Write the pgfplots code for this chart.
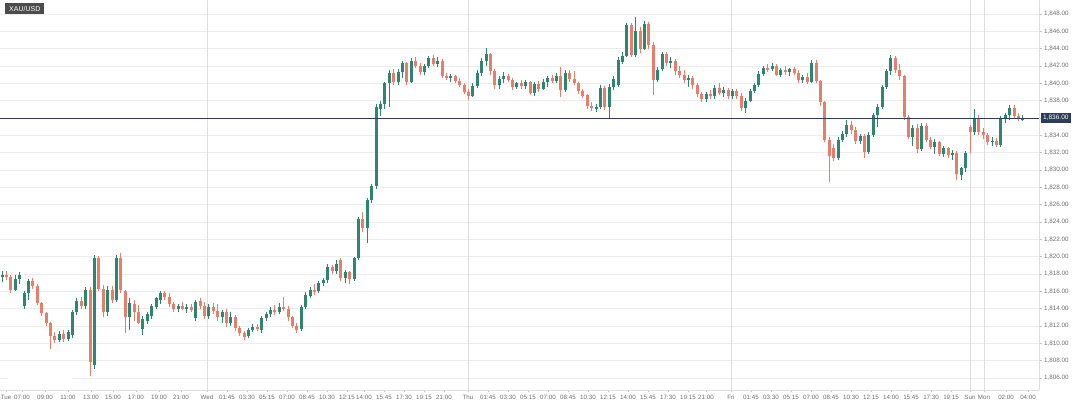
\documentclass[border=0pt]{standalone}
\usepackage{pgfplots}
\pgfplotsset{compat=1.18}
\usepackage{pgfplotstable}
\usepackage{fontspec}
\setmainfont{Liberation Sans}
\definecolor{upc}{RGB}{46,134,113}
\definecolor{dnc}{RGB}{230,126,108}
\definecolor{pline}{RGB}{44,60,92}
\definecolor{gridc}{RGB}{236,236,236}
\definecolor{vgrid}{RGB}{222,222,222}
\definecolor{labc}{RGB}{110,110,110}
\pgfplotstableread{
o h l c
1817.7 1818.4 1817.1 1817.9
1817.9 1818.3 1817.3 1817.6
1817.6 1817.9 1815.8 1816.2
1816.2 1817.9 1816.0 1817.4
1817.4 1818.2 1816.8 1817.9
1814.3 1816.0 1814.0 1815.8
1815.8 1817.4 1815.0 1817.2
1817.2 1817.5 1816.3 1816.6
1816.6 1816.9 1814.4 1814.7
1814.7 1814.8 1813.2 1813.5
1813.5 1813.6 1812.0 1812.3
1812.3 1812.5 1809.4 1810.8
1810.8 1811.3 1810.0 1810.4
1810.4 1811.4 1810.1 1811.1
1811.1 1811.5 1810.2 1810.5
1810.5 1811.6 1810.3 1811.3
1811.0 1813.9 1810.6 1813.6
1813.6 1815.2 1813.3 1814.9
1814.9 1815.4 1814.0 1814.3
1814.3 1816.5 1814.0 1816.2
1816.2 1816.5 1806.2 1807.8
1807.5 1820.2 1807.0 1819.8
1819.8 1820.1 1816.0 1816.3
1816.3 1816.7 1813.0 1813.6
1813.6 1816.6 1813.2 1816.2
1816.2 1816.6 1814.6 1815.0
1815.0 1820.2 1814.8 1819.9
1819.9 1820.4 1815.8 1816.1
1816.1 1816.2 1811.2 1813.0
1813.0 1815.2 1811.5 1814.6
1814.6 1815.0 1812.6 1813.6
1813.6 1814.4 1812.2 1812.4
1811.6 1813.2 1811.0 1812.8
1812.6 1813.6 1812.2 1813.4
1813.2 1814.6 1812.8 1814.3
1814.2 1815.4 1814.0 1815.2
1815.0 1816.0 1814.6 1815.8
1815.8 1816.0 1815.0 1815.3
1815.4 1815.8 1814.2 1814.5
1814.5 1814.8 1813.6 1814.0
1814.0 1814.6 1813.6 1814.3
1814.3 1814.8 1813.8 1814.0
1814.0 1814.5 1813.5 1814.2
1814.2 1814.6 1813.6 1813.8
1812.9 1815.0 1812.6 1814.8
1814.9 1815.2 1814.0 1814.3
1814.3 1814.8 1812.8 1813.2
1813.2 1814.6 1812.8 1814.2
1814.2 1814.6 1813.4 1813.7
1813.7 1814.5 1812.6 1813.0
1813.0 1813.9 1812.3 1813.6
1813.6 1814.0 1811.9 1812.3
1812.3 1813.6 1812.0 1813.0
1813.0 1813.3 1811.4 1811.8
1811.8 1812.0 1810.8 1811.2
1811.2 1811.4 1810.4 1810.7
1810.8 1811.8 1810.6 1811.6
1811.6 1812.2 1811.3 1811.9
1811.9 1812.2 1811.4 1811.7
1811.6 1813.2 1811.2 1812.9
1812.9 1813.6 1812.6 1813.4
1813.4 1814.2 1813.0 1813.9
1813.9 1814.4 1813.3 1813.6
1813.6 1814.6 1813.4 1814.2
1814.2 1815.3 1813.7 1814.0
1814.0 1814.3 1812.6 1813.0
1813.0 1813.2 1811.8 1812.0
1812.0 1812.3 1811.2 1811.5
1811.6 1814.4 1811.4 1814.2
1814.2 1815.9 1814.0 1815.6
1815.5 1816.5 1815.2 1816.2
1816.2 1816.8 1815.6 1816.0
1816.0 1817.2 1815.8 1817.0
1817.0 1817.5 1816.6 1817.3
1817.3 1819.2 1817.0 1818.8
1818.8 1819.1 1818.0 1818.3
1818.3 1819.6 1818.0 1819.2
1819.6 1819.9 1817.2 1817.6
1817.6 1818.5 1817.0 1818.2
1818.2 1818.4 1816.9 1817.4
1817.4 1820.0 1817.2 1819.8
1819.8 1824.6 1819.6 1824.4
1824.4 1825.2 1822.8 1823.3
1823.3 1826.8 1821.6 1826.5
1826.5 1828.4 1826.2 1828.2
1828.2 1837.6 1827.8 1837.3
1837.0 1838.0 1836.2 1837.6
1837.6 1840.2 1837.0 1840.0
1840.0 1841.5 1837.3 1841.2
1841.2 1841.6 1839.8 1840.2
1840.2 1841.6 1839.8 1841.3
1841.3 1842.6 1840.6 1842.3
1842.3 1842.5 1839.8 1840.2
1840.2 1842.9 1840.0 1842.6
1842.6 1843.0 1841.8 1842.0
1842.0 1842.4 1841.0 1841.3
1841.3 1842.2 1841.0 1842.0
1842.0 1843.2 1841.8 1842.9
1842.9 1843.3 1842.0 1842.2
1842.2 1843.0 1841.9 1842.6
1842.6 1842.8 1840.6 1840.9
1840.9 1841.2 1840.4 1840.6
1840.6 1841.1 1840.2 1840.8
1840.8 1841.0 1840.0 1840.3
1840.3 1840.6 1839.6 1839.8
1839.8 1840.0 1838.8 1839.0
1839.0 1839.4 1838.1 1838.5
1838.6 1840.0 1838.4 1839.7
1839.7 1841.5 1839.5 1841.2
1841.2 1842.9 1840.8 1842.6
1842.6 1844.1 1842.0 1843.4
1843.4 1843.5 1841.0 1841.4
1841.4 1841.7 1839.4 1839.8
1839.8 1840.8 1839.4 1840.5
1840.5 1841.3 1840.0 1840.9
1840.9 1841.1 1840.2 1840.4
1840.4 1840.6 1839.2 1839.6
1839.6 1840.2 1839.3 1840.0
1840.0 1840.4 1839.4 1839.7
1839.7 1840.4 1839.3 1840.2
1840.2 1840.3 1838.6 1838.9
1838.9 1840.2 1838.6 1839.9
1839.9 1840.3 1839.0 1839.4
1839.4 1840.5 1839.2 1840.2
1840.2 1840.9 1839.6 1840.6
1840.6 1841.0 1840.0 1840.3
1840.3 1841.2 1840.0 1840.9
1840.9 1841.9 1838.4 1839.2
1839.2 1841.6 1839.0 1841.2
1841.2 1841.5 1840.2 1840.5
1840.5 1841.4 1839.8 1840.0
1840.0 1840.2 1838.8 1839.1
1839.1 1839.4 1838.3 1838.6
1838.6 1838.8 1837.0 1837.4
1837.4 1837.8 1836.8 1837.1
1837.1 1837.6 1836.7 1837.3
1837.3 1839.8 1837.0 1839.5
1839.5 1839.7 1836.9 1837.3
1837.3 1839.9 1836.0 1839.6
1839.6 1840.8 1839.2 1840.5
1839.8 1843.0 1839.6 1842.7
1842.5 1843.6 1842.2 1843.2
1843.2 1847.0 1843.0 1846.7
1846.7 1847.0 1843.0 1843.3
1843.3 1847.7 1843.0 1846.0
1846.0 1846.5 1843.5 1844.0
1844.0 1847.2 1843.8 1846.8
1846.8 1847.1 1844.0 1844.4
1844.4 1844.8 1838.7 1840.4
1840.4 1841.9 1840.2 1841.6
1841.6 1843.6 1841.4 1843.4
1843.4 1843.6 1842.0 1842.3
1842.3 1843.0 1841.8 1842.6
1842.6 1842.8 1841.0 1841.4
1841.4 1842.0 1840.6 1841.0
1841.0 1841.5 1840.0 1840.4
1840.4 1841.0 1839.6 1840.6
1840.6 1840.9 1839.4 1839.8
1839.8 1840.0 1838.4 1838.8
1838.8 1839.0 1837.8 1838.2
1838.2 1839.0 1837.9 1838.8
1838.8 1839.2 1838.2 1838.5
1838.5 1839.8 1838.2 1839.5
1839.5 1840.0 1838.6 1838.9
1838.9 1839.6 1838.4 1839.2
1839.2 1839.5 1838.2 1838.5
1838.5 1839.4 1838.2 1839.1
1839.1 1839.3 1838.2 1838.6
1838.6 1838.9 1836.8 1837.2
1837.2 1838.3 1836.6 1838.0
1838.0 1839.4 1837.8 1839.1
1839.1 1840.0 1838.9 1839.8
1839.8 1841.4 1839.6 1841.1
1841.1 1842.0 1840.9 1841.8
1841.8 1842.2 1841.3 1841.6
1841.6 1842.3 1841.4 1842.0
1842.0 1842.2 1840.8 1841.0
1841.0 1841.8 1840.7 1841.5
1841.5 1842.0 1841.0 1841.3
1841.3 1841.8 1840.8 1841.6
1841.6 1841.9 1841.0 1841.2
1841.2 1841.6 1840.0 1840.4
1840.4 1841.0 1840.0 1840.7
1840.7 1841.2 1839.9 1840.2
1840.2 1842.7 1840.0 1842.3
1842.3 1842.7 1840.0 1840.3
1840.3 1840.4 1837.4 1837.8
1837.8 1838.0 1833.2 1833.5
1833.5 1833.8 1828.6 1831.6
1832.6 1833.0 1831.0 1831.4
1831.4 1833.8 1831.2 1833.5
1833.5 1834.5 1833.2 1834.2
1834.2 1835.8 1833.8 1835.2
1835.2 1835.6 1834.2 1834.6
1834.6 1835.0 1833.0 1833.4
1833.4 1834.2 1833.0 1833.9
1833.9 1834.2 1831.4 1832.1
1832.1 1834.4 1831.8 1834.0
1834.0 1836.6 1833.8 1836.3
1836.3 1837.6 1835.0 1837.3
1837.3 1839.8 1837.0 1839.6
1839.6 1841.6 1839.4 1841.4
1841.4 1843.3 1841.0 1842.9
1842.9 1843.1 1841.2 1841.5
1841.5 1842.2 1840.4 1840.8
1840.8 1841.0 1835.8 1836.1
1836.1 1836.4 1833.6 1833.8
1833.8 1835.2 1832.8 1834.9
1834.9 1835.3 1832.0 1832.4
1832.4 1835.4 1832.2 1835.1
1835.1 1835.4 1833.2 1833.5
1833.5 1833.8 1832.4 1832.7
1832.7 1833.6 1831.8 1833.2
1833.2 1833.4 1831.6 1831.9
1831.9 1832.8 1831.5 1832.5
1832.5 1832.7 1831.4 1831.7
1831.7 1832.3 1831.2 1832.0
1832.0 1832.2 1828.8 1829.5
1829.4 1830.4 1828.9 1830.2
1830.2 1832.2 1829.8 1832.0
1835.0 1835.2 1832.0 1834.4
1834.4 1837.1 1834.0 1836.0
1836.0 1836.4 1834.0 1834.4
1834.4 1834.8 1833.6 1834.0
1834.0 1834.3 1832.9 1833.2
1833.2 1833.8 1832.8 1833.4
1833.4 1833.7 1832.6 1832.9
1832.9 1836.2 1832.7 1836.0
1836.0 1836.6 1835.4 1836.3
1836.3 1837.5 1835.8 1837.2
1837.2 1837.5 1836.0 1836.2
1836.2 1836.6 1835.7 1835.9
1835.9 1836.3 1835.7 1836.0
}\candles
\begin{document}
\begin{tikzpicture}
\path[use as bounding box] (0,0) rectangle (1080pt,407pt);
\begin{axis}[
  at={(0pt,17pt)}, anchor=south west,
  width=1039pt, height=390pt, scale only axis,
  xmin=0, xmax=1039, ymin=1804.615, ymax=1849.615,
  axis x line*=bottom, axis y line*=right,
  axis line style={draw=vgrid},
  ytick={1806,1808,...,1848},
  ymajorgrids, grid style={draw=gridc, line width=0.6pt},
  yticklabel style={font=\fontsize{6.3}{7}\selectfont, text=labc, xshift=-1pt,
     /pgf/number format/.cd, fixed, fixed zerofill, precision=2, 1000 sep={,}, assume math mode=true},
  xtick={6,22,45,68,91,113,136,159,181,207,227,247,267,287,307,327,347,364,384,404,424,444,468,488,508,528,548,568,588,608,628,648,668,688,706,731,751,771,791,811,831,851,871,891,911,931,951,970,984,1006,1028},
  xticklabels={Tue,07:00,09:00,11:00,13:00,15:00,17:00,19:00,21:00,Wed,01:45,03:30,05:15,07:00,08:45,10:30,12:15,14:00,15:45,17:30,19:15,21:00,Thu,01:45,03:30,05:15,07:00,08:45,10:30,12:15,14:00,15:45,17:30,19:15,21:00,Fri,01:45,03:30,05:15,07:00,08:45,10:30,12:15,14:00,15:45,17:30,19:15,Sun,Mon,02:00,04:00},
  xticklabel style={font=\fontsize{6.2}{7}\selectfont, text=labc, yshift=1pt},
  extra x ticks={207,468,731,970,984},
  extra x tick labels={},
  extra x tick style={grid=major, major grid style={draw=vgrid, line width=0.6pt}, major tick length=0pt},
  tick align=outside, major tick length=2.5pt,
  tick style={draw=black!25, line width=0.5pt},
  clip=false,
]
% up candles: wicks, then bodies
\addplot[draw=none, mark=none, restrict y to domain=1700:1900,
  error bars/.cd, y dir=both, y explicit, error mark=none,
  error bar style={draw=upc, line width=0.7pt}]
  table[x expr=2+4.4*\coordindex,
        y expr={ifthenelse(\thisrow{c}>\thisrow{o},(\thisrow{h}+\thisrow{l})/2,0)},
        y error expr=(\thisrow{h}-\thisrow{l})/2] {\candles};
\addplot[draw=none, mark=none, restrict y to domain=1700:1900,
  error bars/.cd, y dir=both, y explicit, error mark=none,
  error bar style={draw=upc, line width=3pt}]
  table[x expr=2+4.4*\coordindex,
        y expr={ifthenelse(\thisrow{c}>\thisrow{o},(\thisrow{o}+\thisrow{c})/2,0)},
        y error expr=abs(\thisrow{c}-\thisrow{o})/2] {\candles};
% down candles
\addplot[draw=none, mark=none, restrict y to domain=1700:1900,
  error bars/.cd, y dir=both, y explicit, error mark=none,
  error bar style={draw=dnc, line width=0.7pt}]
  table[x expr=2+4.4*\coordindex,
        y expr={ifthenelse(\thisrow{c}<\thisrow{o},(\thisrow{h}+\thisrow{l})/2,0)},
        y error expr=(\thisrow{h}-\thisrow{l})/2] {\candles};
\addplot[draw=none, mark=none, restrict y to domain=1700:1900,
  error bars/.cd, y dir=both, y explicit, error mark=none,
  error bar style={draw=dnc, line width=3pt}]
  table[x expr=2+4.4*\coordindex,
        y expr={ifthenelse(\thisrow{c}<\thisrow{o},(\thisrow{o}+\thisrow{c})/2,0)},
        y error expr=abs(\thisrow{c}-\thisrow{o})/2] {\candles};
% current price line
\addplot[pline, line width=0.8pt] coordinates {(0,1836) (1039,1836)};
\coordinate (pl) at (axis cs:1039,1836);
\end{axis}
\node[fill=pline, text=white, font=\fontsize{6.5}{7}\selectfont, inner xsep=2.5pt, inner ysep=2.3pt, anchor=west] at ([xshift=1.5pt]pl) {1,836.00};
\node[fill=black!70, text=white, font=\fontsize{7}{8}\selectfont, inner xsep=4pt, inner ysep=3pt, anchor=north west] at (5pt,404pt) {XAU/USD};
\fill[white] (8pt,27pt) rectangle (72pt,42pt);
\end{tikzpicture}
\end{document}
